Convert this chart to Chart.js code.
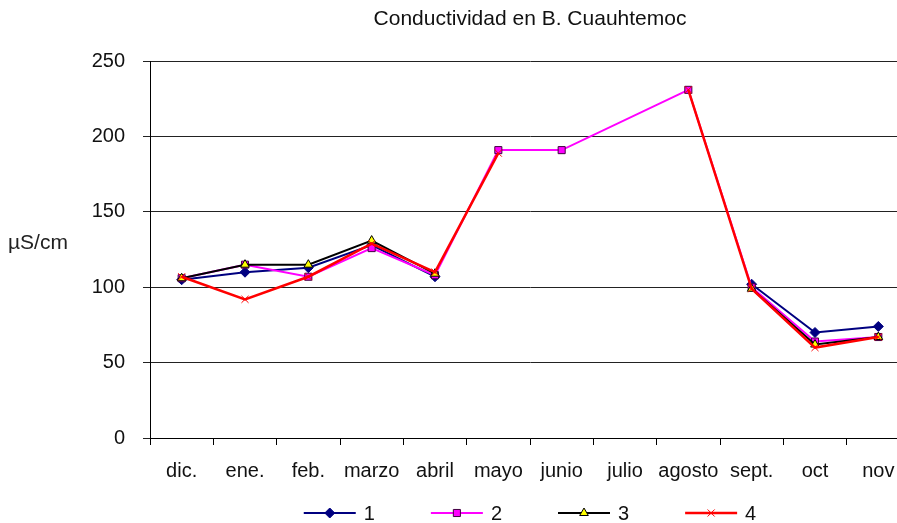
<!DOCTYPE html>
<html>
<head>
<meta charset="utf-8">
<script src="https://cdn.jsdelivr.net/npm/chart.js@4.4.1/dist/chart.umd.min.js"></script>
<style>
  html, body { margin: 0; padding: 0; background: #fff; overflow: hidden; }
  #wrap { position: relative; width: 916px; height: 523px; }
</style>
</head>
<body>
<div id="wrap"><canvas id="chart"></canvas></div>
<script>
const months = ['dic.', 'ene.', 'feb.', 'marzo', 'abril', 'mayo', 'junio', 'julio', 'agosto', 'sept.', 'oct', 'nov'];
const serie1 = [105, 110, 113, 128, 107, null, null, null, null, 102, 70, 74];
const serie2 = [106, 115, 107, 126, 108, 191, 191, null, 231, 100, 64, 67];
const serie3 = [106, 115, 115, 131, 109, null, null, null, null, 99, 62, 67];
const serie4 = [107, 92, 107, 129, 110, 189, null, null, 231, 99, 60, 67];
const yTicks = [0, 50, 100, 150, 200, 250];

const font = "'Liberation Sans', Arial, sans-serif";

const unitLabel = {
  id: 'unitLabel',
  afterDraw(chart) {
    const { ctx, chartArea } = chart;
    ctx.save();
    ctx.font = '21px ' + font;
    ctx.fillStyle = '#222';
    ctx.textBaseline = 'middle';
    ctx.fillText('µS/cm', 8, (chartArea.top + chartArea.bottom) / 2 - 6);
    ctx.restore();
  }
};

// Excel style legend: a short line with the marker on it, then the name
const lineLegend = {
  id: 'lineLegend',
  afterDraw(chart) {
    const { ctx, chartArea } = chart;
    const ds = chart.data.datasets;
    ctx.save();
    ctx.font = '20px ' + font;
    const lineLen = 52, gap = 56;
    const widths = ds.map(d => lineLen + 8 + ctx.measureText(d.label).width);
    const total = widths.reduce((a, b) => a + b, 0) + gap * (ds.length - 1);
    let x = (chartArea.left + chartArea.right) / 2 - total / 2;
    const y = chartArea.bottom + 75;
    ds.forEach((d, i) => {
      ctx.strokeStyle = d.borderColor;
      ctx.lineWidth = d.borderWidth;
      ctx.beginPath(); ctx.moveTo(x, y); ctx.lineTo(x + lineLen, y); ctx.stroke();
      ctx.fillStyle = d.pointBackgroundColor;
      ctx.strokeStyle = d.pointBorderColor;
      ctx.lineWidth = 1;
      Chart.helpers.drawPoint(ctx, { pointStyle: d.pointStyle, radius: d.pointRadius, borderWidth: 1 }, x + lineLen / 2, y);
      ctx.fillStyle = '#111';
      ctx.textBaseline = 'middle';
      ctx.fillText(d.label, x + lineLen + 8, y + 1);
      x += widths[i] + gap;
    });
    ctx.restore();
  }
};

const sets = [
  { label: '1', data: serie1, color: '#000080', width: 2, style: 'rectRot', fill: '#000080', border: '#000080', span: false },
  { label: '2', data: serie2, color: '#ff00ff', width: 2, style: 'rect', fill: '#ff00ff', border: '#400040', span: true },
  { label: '3', data: serie3, color: '#000000', width: 2, style: 'triangle', fill: '#ffff00', border: '#000000', span: false },
  { label: '4', data: serie4, color: '#ff0000', width: 2.5, style: 'crossRot', fill: '#ff0000', border: '#ff0000', span: false }
];

new Chart(document.getElementById('chart'), {
  type: 'line',
  data: {
    labels: months,
    datasets: sets.map((s, i) => ({
      label: s.label,
      data: s.data,
      order: sets.length - 1 - i,
      borderColor: s.color,
      borderWidth: s.width,
      pointStyle: s.style,
      pointRadius: 5,
      pointBackgroundColor: s.fill,
      pointBorderColor: s.border,
      pointBorderWidth: 1,
      spanGaps: s.span,
      tension: 0
    }))
  },
  options: {
    responsive: true,
    maintainAspectRatio: false,
    animation: false,
    layout: { padding: { left: 0, right: 5, top: 0, bottom: 26 } },
    scales: {
      x: {
        offset: true,
        grid: { offset: true, drawOnChartArea: false, color: '#000', tickLength: 7 },
        border: { color: '#000', width: 1 },
        ticks: { color: '#111', font: { family: font, size: 20 }, padding: 14, maxRotation: 0, autoSkip: false }
      },
      y: {
        min: 0, max: 250,
        afterBuildTicks: s => { s.ticks = yTicks.map(v => ({ value: v })); },
        afterFit: s => { s.width = 150; },
        grid: { color: '#222', tickLength: 7, lineWidth: 1 },
        border: { color: '#000', width: 1 },
        ticks: { color: '#111', font: { family: font, size: 20 }, padding: 18 }
      }
    },
    plugins: {
      title: {
        display: true,
        text: 'Conductividad en B. Cuauhtemoc',
        fullSize: false,
        color: '#111',
        font: { family: font, size: 21, weight: 'normal' },
        padding: { top: 7, bottom: 29 }
      },
      legend: { display: false },
      tooltip: { enabled: false }
    }
  },
  plugins: [unitLabel, lineLegend]
});
</script>
</body>
</html>
